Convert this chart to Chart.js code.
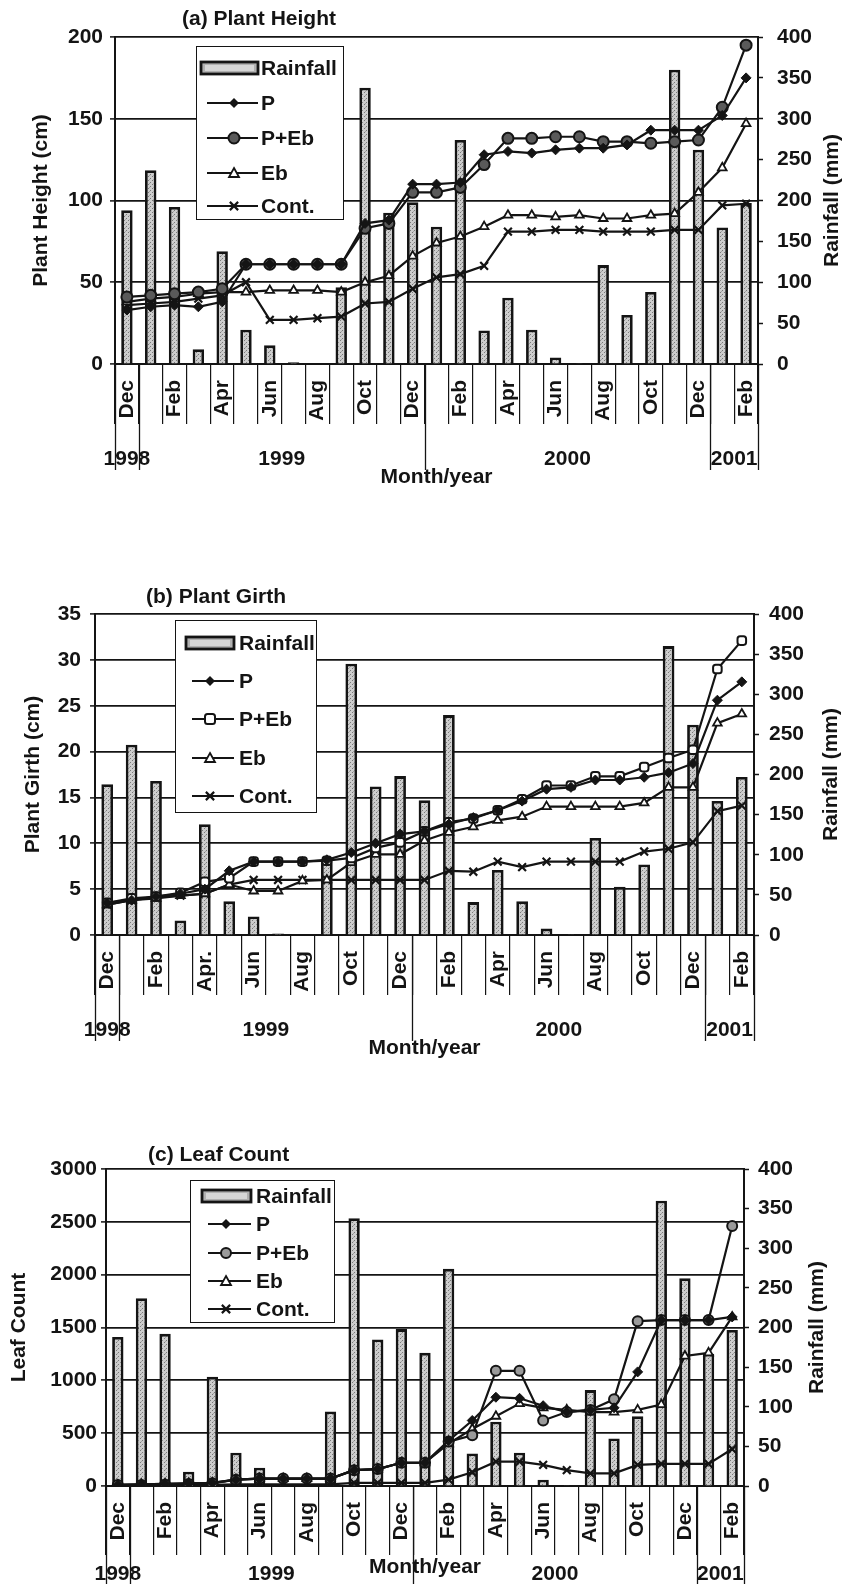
<!DOCTYPE html>
<html>
<head>
<meta charset="utf-8">
<script src="https://cdn.jsdelivr.net/npm/chart.js@4.4.1/dist/chart.umd.min.js"></script>
<style>
  html, body { margin: 0; padding: 0; background: #fff; }
  body { width: 844px; height: 1584px; position: relative; overflow: hidden;
         font-family: "Liberation Sans", Arial, sans-serif; font-weight: bold; color: #141414; }
  canvas { position: absolute; left: 0; }
  .ptitle { position: absolute; font-size: 21px; line-height: 24px; white-space: nowrap; }
  .legend { position: absolute; box-sizing: border-box; border: 1.6px solid #141414; background: #fff; }
  .legend .row { position: absolute; left: 0; right: 0; height: 26px; }
  .legend .row svg { position: absolute; left: 0; top: 0; }
  .legend .row span { position: absolute; top: 0; font-size: 21px; line-height: 26px; white-space: nowrap; }
</style>
</head>
<body>
<canvas id="chartA" width="844" height="500" style="top:0px"></canvas>
<canvas id="chartB" width="844" height="510" style="top:560px"></canvas>
<canvas id="chartC" width="844" height="454" style="top:1130px"></canvas>
<div class="ptitle" style="left:182px; top:6px">(a) Plant Height</div>
<div class="ptitle" style="left:146px; top:584px">(b) Plant Girth</div>
<div class="ptitle" style="left:148px; top:1142px">(c) Leaf Count</div>
<div class="legend" id="legA"></div>
<div class="legend" id="legB"></div>
<div class="legend" id="legC"></div>
<script>
// ---- data ----
const months = ['Dec','Jan','Feb','Mar','Apr','May','Jun','Jul','Aug','Sep','Oct','Nov',
                'Dec','Jan','Feb','Mar','Apr','May','Jun','Jul','Aug','Sep','Oct','Nov',
                'Dec','Jan','Feb'];
const monthsGirth = months.map((m, i) => i === 4 ? 'Apr.' : m);
const years = ['1998', '1999', '2000', '2001'];
const yearStart = [0, 1, 13, 25];   // index of the first month of each year

// monthly rainfall (mm), same in all three panels
const rainfall = [188, 237, 192, 18, 138, 42, 23, 2, 0, 94, 338, 185, 198, 168, 274, 41, 81, 42, 8, 1, 121, 60, 88, 360, 262, 167, 197];

// (a) plant height (cm)
const heightP    = [33, 35, 36, 35, 38, 61, 61, 61, 61, 61, 86, 88, 110, 110, 111, 128, 130, 129, 131, 132, 132, 134, 143, 143, 143, 152, 175];
const heightPEb  = [41, 42, 43, 44, 46, 61, 61, 61, 61, 61, 83, 86, 105, 105, 108, 122, 138, 138, 139, 139, 136, 136, 135, 136, 137, 157, 195];
const heightEb   = [38, 40, 41, 43, 44, 44, 45, 45, 45, 44, 50, 54, 66, 74, 78, 84, 91, 91, 90, 91, 89, 89, 91, 92, 105, 120, 147];
const heightCont = [36, 37, 38, 40, 42, 50, 27, 27, 28, 29, 37, 38, 46, 53, 55, 60, 81, 81, 82, 82, 81, 81, 81, 82, 82, 97, 98];

// (b) plant girth (cm)
const girthP    = [3.5, 3.8, 4.2, 4.5, 5.0, 7.0, 8.0, 8.0, 8.0, 8.2, 9.0, 10.0, 11.0, 11.3, 12.1, 12.8, 13.6, 14.6, 15.9, 16.1, 16.9, 16.9, 17.2, 17.7, 18.7, 25.6, 27.6];
const girthPEb  = [3.5, 4.0, 4.2, 4.6, 5.8, 6.2, 8.0, 8.0, 8.0, 8.1, 8.4, 9.5, 10.1, 11.3, 12.3, 12.7, 13.6, 14.8, 16.3, 16.3, 17.3, 17.3, 18.3, 19.3, 20.2, 29.0, 32.1];
const girthEb   = [3.3, 3.8, 4.0, 4.3, 4.5, 5.5, 4.8, 4.8, 5.9, 6.0, 7.9, 8.8, 8.8, 10.3, 11.2, 11.8, 12.5, 12.9, 14.0, 14.0, 14.0, 14.0, 14.4, 16.1, 16.1, 23.1, 24.1];
const girthCont = [3.3, 3.8, 4.1, 4.3, 4.5, 5.5, 6.0, 6.0, 6.0, 6.0, 6.0, 6.0, 6.0, 6.0, 7.0, 6.9, 8.0, 7.4, 8.0, 8.0, 8.0, 8.0, 9.1, 9.4, 10.1, 13.5, 14.1];

// (c) leaf count
const leafP    = [10, 15, 20, 25, 30, 60, 70, 70, 70, 70, 150, 160, 220, 220, 430, 620, 840, 830, 760, 700, 720, 740, 1080, 1570, 1570, 1570, 1600];
const leafPEb  = [10, 10, 15, 20, 25, 60, 70, 70, 70, 70, 150, 160, 220, 220, 420, 480, 1090, 1090, 620, 700, 720, 820, 1560, 1570, 1570, 1570, 2460];
const leafEb   = [10, 15, 20, 25, 30, 60, 70, 70, 70, 70, 150, 160, 220, 220, 400, 540, 660, 780, 740, 720, 700, 700, 720, 770, 1230, 1260, 1600];
const leafCont = [5, 5, 10, 10, 10, 15, 15, 15, 15, 15, 30, 30, 30, 30, 60, 130, 230, 230, 200, 150, 120, 120, 200, 210, 210, 210, 350];

const heightTicks = [0, 50, 100, 150, 200];
const girthTicks  = [0, 5, 10, 15, 20, 25, 30, 35];
const leafTicks   = [0, 500, 1000, 1500, 2000, 2500, 3000];
const rainTicks   = [0, 50, 100, 150, 200, 250, 300, 350, 400];
const seriesNames = ['P', 'P+Eb', 'Eb', 'Cont.'];

// ---- styling ----
const INK = '#141414';
const FONT_FAMILY = '"Liberation Sans", Arial, sans-serif';
Chart.defaults.font.family = FONT_FAMILY;
Chart.defaults.font.size = 21;
Chart.defaults.font.weight = 'bold';
Chart.defaults.color = INK;

function stippleTile() {
  const c = document.createElement('canvas');
  c.width = 4; c.height = 4;
  const g = c.getContext('2d');
  g.fillStyle = '#cdcdcd'; g.fillRect(0, 0, 4, 4);
  g.fillStyle = '#7a7a7a'; g.fillRect(0, 0, 1, 1); g.fillRect(2, 2, 1, 1);
  g.fillStyle = '#a4a4a4'; g.fillRect(1, 3, 1, 1);
  return c;
}

// marker look per series: P, P+Eb, Eb, Cont.
function markerStyles(pebStyle, pebFill, pebRadius) {
  return [
    { pointStyle: 'rectRot', radius: 5, fill: INK, width: 1 },
    { pointStyle: pebStyle, radius: pebRadius, fill: pebFill, width: 2 },
    { pointStyle: 'triangle', radius: 5, fill: '#fff', width: 1.8 },
    { pointStyle: 'crossRot', radius: 5.5, fill: INK, width: 2.2 }
  ];
}

// long separators, year row, x title and the right axis title
const multiLevel = {
  id: 'multiLevel',
  afterDraw(chart, args, o) {
    const { ctx, chartArea } = chart;
    const xs = chart.scales.x;
    const base = chartArea.bottom;
    const edges = yearStart.concat([months.length]);
    ctx.save();
    ctx.strokeStyle = INK;
    ctx.lineWidth = 1.3;
    edges.forEach(i => {
      const px = Math.round(xs.getPixelForValue(i - 0.5)) + 0.5;
      ctx.beginPath();
      ctx.moveTo(px, base);
      ctx.lineTo(px, base + o.longLen);
      ctx.stroke();
    });
    ctx.fillStyle = INK;
    ctx.font = 'bold 21px ' + FONT_FAMILY;
    ctx.textAlign = 'center';
    ctx.textBaseline = 'middle';
    years.forEach((yr, k) => {
      const a = xs.getPixelForValue(edges[k] - 0.5);
      const b = xs.getPixelForValue(edges[k + 1] - 0.5);
      ctx.fillText(yr, (a + b) / 2, base + o.yearY);
    });
    ctx.fillText(o.xTitle, (chartArea.left + chartArea.right) / 2, base + o.titleY);
    ctx.translate(o.rightTitleX, (chartArea.top + chartArea.bottom) / 2);
    ctx.rotate(-Math.PI / 2);
    ctx.fillText(o.rightTitle, 0, 0);
    ctx.restore();
  }
};

function makeChart(p) {
  const canvas = document.getElementById(p.id);
  const ctx = canvas.getContext('2d');
  const rainFill = ctx.createPattern(stippleTile(), 'repeat');
  const tickFont = { size: 21, weight: 'bold' };

  const lineSets = p.series.map((vals, k) => ({
    type: 'line',
    label: seriesNames[k],
    data: vals,
    yAxisID: 'y',
    order: 1,
    borderColor: INK,
    borderWidth: 2.2,
    tension: 0,
    pointStyle: p.markers[k].pointStyle,
    pointRadius: p.markers[k].radius,
    pointBackgroundColor: p.markers[k].fill,
    pointBorderColor: INK,
    pointBorderWidth: p.markers[k].width
  }));

  return new Chart(ctx, {
    type: 'bar',
    data: {
      labels: p.months,
      datasets: lineSets.concat([{
        type: 'bar',
        label: 'Rainfall',
        data: rainfall,
        yAxisID: 'y1',
        order: 5,
        backgroundColor: rainFill,
        borderColor: INK,
        borderWidth: 2.8,
        barPercentage: 0.48,
        categoryPercentage: 1
      }])
    },
    options: {
      responsive: false,
      animation: false,
      devicePixelRatio: 1,
      layout: { padding: { top: p.plotTop, left: 0, right: 0, bottom: 0 } },
      plugins: {
        legend: { display: false },
        tooltip: { enabled: false },
        multiLevel: {
          longLen: p.longLen, yearY: p.yearY, titleY: p.titleY, xTitle: 'Month/year',
          rightTitle: 'Rainfall (mm)', rightTitleX: p.rightTitleX
        }
      },
      scales: {
        x: {
          offset: true,
          grid: { offset: true, drawOnChartArea: false, drawTicks: true,
                  tickLength: p.shortLen, color: INK, lineWidth: 1.2 },
          border: { display: true, color: INK, width: 2 },
          ticks: {
            autoSkip: false, minRotation: 90, maxRotation: 90,
            padding: p.labelGap - p.shortLen, font: tickFont, color: INK,
            callback: (v, i) => (i % 2 === 0 ? p.months[i] : '')
          },
          afterFit: s => { s.height = p.canvasH - p.plotBottom; }
        },
        y: {
          position: 'left',
          min: p.yTicks[0], max: p.yTicks[p.yTicks.length - 1],
          ticks: { stepSize: p.yTicks[1] - p.yTicks[0], padding: p.yTickPad, font: tickFont, color: INK,
                   callback: v => String(v) },
          grid: { color: INK, lineWidth: 1.8, tickLength: 5, tickWidth: 1.5, tickColor: INK },
          border: { display: true, color: INK, width: 2 },
          title: { display: true, text: p.yTitle, color: INK, font: { size: 21, weight: 'bold' },
                   padding: { top: p.yTitlePad, bottom: 0 } },
          afterFit: s => { s.width = p.plotLeft; }
        },
        y1: {
          position: 'right',
          min: rainTicks[0], max: rainTicks[rainTicks.length - 1],
          ticks: { stepSize: rainTicks[1] - rainTicks[0], padding: p.y1TickPad, font: tickFont, color: INK,
                   callback: v => String(v) },
          grid: { drawOnChartArea: false, tickLength: 5, color: INK, tickWidth: 1.5 },
          border: { display: true, color: INK, width: 2 },
          afterFit: s => { s.width = 844 - p.plotRight; }
        }
      }
    },
    plugins: [multiLevel]
  });
}

function keySvg(m, from, to, mid, w) {
  const cy = 13;
  let mark = '';
  const r = m.radius;
  if (m.pointStyle === 'rectRot') {
    mark = `<polygon points="${mid},${cy - r} ${mid + r},${cy} ${mid},${cy + r} ${mid - r},${cy}" fill="${INK}"/>`;
  } else if (m.pointStyle === 'circle') {
    mark = `<circle cx="${mid}" cy="${cy}" r="${r}" fill="${m.fill}" stroke="${INK}" stroke-width="${m.width}"/>`;
  } else if (m.pointStyle === 'rectRounded') {
    mark = `<rect x="${mid - r}" y="${cy - r}" width="${2 * r}" height="${2 * r}" rx="2.5" fill="${m.fill}" stroke="${INK}" stroke-width="${m.width}"/>`;
  } else if (m.pointStyle === 'triangle') {
    mark = `<polygon points="${mid},${cy - r} ${mid + r},${cy + r * 0.8} ${mid - r},${cy + r * 0.8}" fill="#fff" stroke="${INK}" stroke-width="${m.width}"/>`;
  } else {
    const d = r * 0.75;
    mark = `<path d="M${mid - d},${cy - d}L${mid + d},${cy + d}M${mid + d},${cy - d}L${mid - d},${cy + d}" stroke="${INK}" stroke-width="${m.width}"/>`;
  }
  return `<svg width="${w}" height="26"><line x1="${from}" y1="${cy}" x2="${to}" y2="${cy}" stroke="${INK}" stroke-width="2.2"/>${mark}</svg>`;
}

function buildLegend(id, g, markers) {
  const el = document.getElementById(id);
  el.style.left = g.left + 'px';
  el.style.top = g.top + 'px';
  el.style.width = g.width + 'px';
  el.style.height = g.height + 'px';
  let html = '';
  const rainKey = `<svg width="${g.textX}" height="26"><rect x="${g.keyFrom}" y="7" width="${g.keyTo - g.keyFrom}" height="12" fill="#b0b0b0" stroke="${INK}" stroke-width="2.8"/>` +
    `<rect x="${g.keyFrom + 4}" y="10" width="${g.keyTo - g.keyFrom - 8}" height="6" fill="#d6d6d6"/></svg>`;
  html += `<div class="row" style="top:${g.rows[0] - 13}px">${rainKey}<span style="left:${g.textX}px">Rainfall</span></div>`;
  markers.forEach((m, k) => {
    html += `<div class="row" style="top:${g.rows[k + 1] - 13}px">${keySvg(m, g.keyFrom + 6, g.keyTo, g.markX, g.textX)}` +
            `<span style="left:${g.textX}px">${seriesNames[k]}</span></div>`;
  });
  el.innerHTML = html;
}

const markersA = markerStyles('circle', '#5a5a5a', 5.5);
const markersB = markerStyles('rectRounded', '#fff', 5);
const markersC = markerStyles('circle', '#9a9a9a', 5);

makeChart({
  id: 'chartA', canvasH: 500, plotTop: 37, plotBottom: 364, plotLeft: 115, plotRight: 758,
  months: months, series: [heightP, heightPEb, heightEb, heightCont], markers: markersA,
  yTicks: heightTicks, yTitle: 'Plant Height (cm)', yTitlePad: 29, yTickPad: 7, y1TickPad: 14,
  labelGap: 16, shortLen: 60, longLen: 106, yearY: 95, titleY: 113, rightTitleX: 832
});
makeChart({
  id: 'chartB', canvasH: 510, plotTop: 54, plotBottom: 375, plotLeft: 95, plotRight: 754,
  months: monthsGirth, series: [girthP, girthPEb, girthEb, girthCont], markers: markersB,
  yTicks: girthTicks, yTitle: 'Plant Girth (cm)', yTitlePad: 21, yTickPad: 9, y1TickPad: 10,
  labelGap: 16, shortLen: 60, longLen: 106, yearY: 95, titleY: 113, rightTitleX: 831
});
makeChart({
  id: 'chartC', canvasH: 454, plotTop: 39, plotBottom: 356, plotLeft: 106, plotRight: 744,
  months: months, series: [leafP, leafPEb, leafEb, leafCont], markers: markersC,
  yTicks: leafTicks, yTitle: 'Leaf Count', yTitlePad: 7, yTickPad: 4, y1TickPad: 9,
  labelGap: 16, shortLen: 69, longLen: 98, yearY: 88, titleY: 81, rightTitleX: 817
});

buildLegend('legA', { left: 196, top: 46, width: 148, height: 174, rows: [21, 56, 91, 126, 159],
                      keyFrom: 4, keyTo: 61, markX: 37, textX: 64 }, markersA);
buildLegend('legB', { left: 175, top: 620, width: 142, height: 193, rows: [22, 60, 98, 137, 175],
                      keyFrom: 10, keyTo: 58, markX: 34, textX: 63 }, markersB);
buildLegend('legC', { left: 190, top: 1180, width: 145, height: 143, rows: [15, 43, 72, 100, 128],
                      keyFrom: 11, keyTo: 60, markX: 35, textX: 65 }, markersC);
</script>
</body>
</html>
